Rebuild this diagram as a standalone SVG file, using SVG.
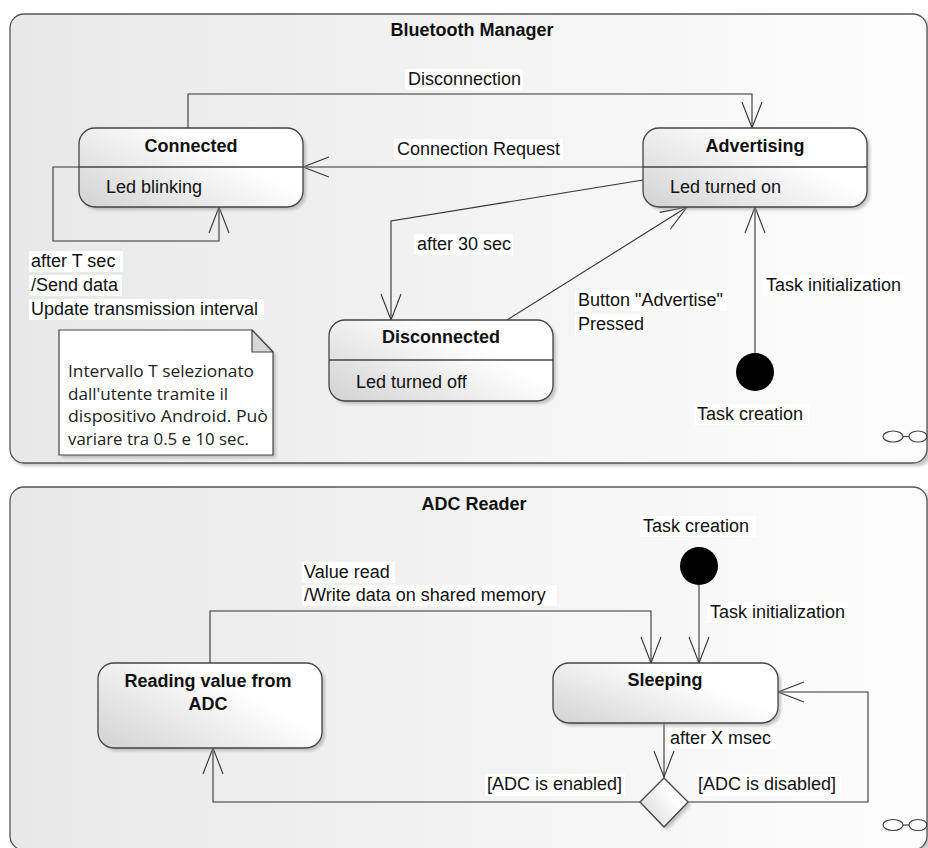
<svg xmlns="http://www.w3.org/2000/svg" width="928" height="848" viewBox="0 0 928 848">
<defs>
<style>
.t{font-family:"Liberation Sans",Arial,sans-serif;font-size:18px;fill:#111}
.b{font-family:"Liberation Sans",Arial,sans-serif;font-size:18px;font-weight:bold;fill:#111}
.n{font-family:"Open Sans","Noto Sans",sans-serif;font-size:16.5px;fill:#222}
.lb{fill:#ffffff}
.node{fill:url(#ng);stroke:#444;stroke-width:1.3}
.frame{fill:url(#fg);stroke:#555;stroke-width:1.3}
.div{stroke:#444;stroke-width:1.3}
.c{fill:none;stroke:#333;stroke-width:1.1}
.ca{fill:none;stroke:#333;stroke-width:1.1;marker-end:url(#arr)}
.sh{fill:#999;opacity:0.55;filter:url(#blur)}
</style>
<linearGradient id="ng" x1="0" y1="1" x2="1" y2="0.3">
<stop offset="0" stop-color="#d2d2d2"/>
<stop offset="0.75" stop-color="#ffffff"/>
<stop offset="1" stop-color="#ffffff"/>
</linearGradient>
<linearGradient id="fg" x1="0" y1="0" x2="1" y2="0">
<stop offset="0" stop-color="#e8e8e8"/>
<stop offset="1" stop-color="#fdfdfd"/>
</linearGradient>
<filter id="blur" x="-5%" y="-5%" width="110%" height="110%"><feGaussianBlur stdDeviation="1.5"/></filter>
<marker id="arr" viewBox="-30 -12 32 24" markerWidth="32" markerHeight="24" refX="0" refY="0" orient="auto" markerUnits="userSpaceOnUse">
<path d="M-26,-10 L0,0 L-26,10" fill="none" stroke="#333" stroke-width="1.1"/>
</marker>
</defs>

<!-- Frames -->
<g id="frame-bluetooth">
<rect class="sh" x="12" y="17" width="920" height="449" rx="14"/>
<rect class="frame" x="10" y="14" width="917" height="449" rx="14"/>
<text class="b" x="472" y="36" text-anchor="middle">Bluetooth Manager</text>
<ellipse cx="893" cy="436.5" rx="10" ry="5.5" fill="none" stroke="#444" stroke-width="1.2"/>
<ellipse cx="918" cy="436.5" rx="9" ry="5.5" fill="none" stroke="#444" stroke-width="1.2"/>
<line x1="903" y1="436.5" x2="909" y2="436.5" stroke="#444" stroke-width="1.2"/>
</g>
<g id="frame-adc">
<rect class="sh" x="12" y="490" width="920" height="362" rx="14"/>
<rect class="frame" x="10" y="487" width="917" height="363" rx="14"/>
<text class="b" x="474" y="510" text-anchor="middle">ADC Reader</text>
<ellipse cx="893" cy="825" rx="10" ry="5.5" fill="none" stroke="#444" stroke-width="1.2"/>
<ellipse cx="918" cy="825" rx="9" ry="5.5" fill="none" stroke="#444" stroke-width="1.2"/>
<line x1="903" y1="825" x2="909" y2="825" stroke="#444" stroke-width="1.2"/>
</g>

<!-- Connectors -->
<g id="connectors">
<path class="ca" d="M188,128 L188,94 L752,94 L752,128"/>
<path class="ca" d="M643,167 L303,167"/>
<path class="ca" d="M79,167 L53,167 L53,241 L219,241 L219,207"/>
<path class="ca" d="M643,180 L391,221 L391,320"/>
<path class="ca" d="M507,320 L687,207"/>
<path class="ca" d="M755,353 L755,207"/>
<path class="ca" d="M210,663 L210,611 L651,611 L651,663"/>
<path class="ca" d="M699,585 L699,663"/>
<path class="ca" d="M664,723 L664,777"/>
<path class="ca" d="M640,802 L213,802 L213,748"/>
<path class="ca" d="M688,802 L868,802 L868,692 L778,692"/>

<rect class="lb" x="405" y="69" width="118" height="21"/>
<text class="t" x="408" y="85">Disconnection</text>
<rect class="lb" x="394" y="139" width="169" height="21"/>
<text class="t" x="397" y="155">Connection Request</text>
<rect class="lb" x="29" y="251" width="94" height="21"/>
<text class="t" x="31" y="267">after T sec</text>
<rect class="lb" x="29" y="275" width="93" height="21"/>
<text class="t" x="31" y="291">/Send data</text>
<rect class="lb" x="29" y="299" width="235" height="21"/>
<text class="t" x="31" y="315">Update transmission interval</text>
<rect class="lb" x="414" y="234" width="99" height="21"/>
<text class="t" x="417" y="250">after 30 sec</text>
<rect class="lb" x="575" y="290" width="152" height="21"/>
<text class="t" x="578" y="306">Button "Advertise"</text>
<rect class="lb" x="575" y="314" width="72" height="21"/>
<text class="t" x="578" y="330">Pressed</text>
<rect class="lb" x="763" y="275" width="141" height="21"/>
<text class="t" x="766" y="291">Task initialization</text>
<rect class="lb" x="694" y="404" width="116" height="21"/>
<text class="t" x="697" y="420">Task creation</text>

<rect class="lb" x="302" y="562" width="93" height="21"/>
<text class="t" x="304" y="578">Value read</text>
<rect class="lb" x="302" y="585" width="255" height="21"/>
<text class="t" x="304" y="601">/Write data on shared memory</text>
<rect class="lb" x="640" y="516" width="116" height="21"/>
<text class="t" x="643" y="532">Task creation</text>
<rect class="lb" x="707" y="602" width="141" height="21"/>
<text class="t" x="710" y="618">Task initialization</text>
<rect class="lb" x="668" y="728" width="108" height="21"/>
<text class="t" x="670" y="744">after X msec</text>
<rect class="lb" x="485" y="774" width="140" height="22"/>
<text class="t" x="487" y="790">[ADC is enabled]</text>
<rect class="lb" x="696" y="774" width="145" height="22"/>
<text class="t" x="698" y="790">[ADC is disabled]</text>
</g>

<!-- Nodes -->
<g id="connected">
<rect class="sh" x="82" y="131" width="224" height="79" rx="16"/>
<rect class="node" x="79" y="128" width="224" height="79" rx="16"/>
<line class="div" x1="79" y1="167" x2="303" y2="167"/>
<text class="b" x="191" y="152" text-anchor="middle">Connected</text>
<text class="t" x="106" y="193">Led blinking</text>
</g>
<g id="advertising">
<rect class="sh" x="646" y="131" width="224" height="79" rx="16"/>
<rect class="node" x="643" y="128" width="224" height="79" rx="16"/>
<line class="div" x1="643" y1="167" x2="867" y2="167"/>
<text class="b" x="755" y="152" text-anchor="middle">Advertising</text>
<text class="t" x="670" y="193">Led turned on</text>
</g>
<g id="disconnected">
<rect class="sh" x="332" y="323" width="224" height="81" rx="16"/>
<rect class="node" x="329" y="320" width="224" height="81" rx="16"/>
<line class="div" x1="329" y1="360" x2="553" y2="360"/>
<text class="b" x="441" y="343" text-anchor="middle">Disconnected</text>
<text class="t" x="356" y="388">Led turned off</text>
</g>
<g id="initial-bt">
<circle cx="755" cy="372" r="19" fill="#000"/>
</g>
<g id="note">
<path class="sh" d="M62,333 L255,333 L276,355 L276,458 L62,458 Z"/>
<path d="M59,330 L252,330 L273,352 L273,455 L59,455 Z" fill="#ffffff" stroke="#444" stroke-width="1.2"/>
<path d="M252,330 L252,352 L273,352 Z" fill="#d6d6d6" stroke="#444" stroke-width="1.2" stroke-linejoin="round"/>
<text class="n" x="68" y="377" textLength="186" lengthAdjust="spacingAndGlyphs">Intervallo T selezionato</text>
<text class="n" x="68" y="400" textLength="160" lengthAdjust="spacingAndGlyphs">dall'utente tramite il</text>
<text class="n" x="68" y="422" textLength="200" lengthAdjust="spacingAndGlyphs">dispositivo Android. Può</text>
<text class="n" x="68" y="445" textLength="181" lengthAdjust="spacingAndGlyphs">variare tra 0.5 e 10 sec.</text>
</g>

<g id="reading">
<rect class="sh" x="101" y="666" width="224" height="85" rx="16"/>
<rect class="node" x="98" y="663" width="224" height="85" rx="16"/>
<text class="b" x="208" y="687" text-anchor="middle">Reading value from</text>
<text class="b" x="208" y="710" text-anchor="middle">ADC</text>
</g>
<g id="sleeping">
<rect class="sh" x="556" y="666" width="225" height="60" rx="16"/>
<rect class="node" x="553" y="663" width="225" height="60" rx="16"/>
<text class="b" x="665" y="686" text-anchor="middle">Sleeping</text>
</g>
<g id="initial-adc">
<circle cx="699" cy="566" r="19" fill="#000"/>
</g>
<g id="decision">
<path class="sh" d="M667,781 L691,805 L667,830 L643,805 Z"/>
<path d="M664,778 L688,802 L664,827 L640,802 Z" fill="url(#ng)" stroke="#444" stroke-width="1.3"/>
</g>
</svg>
